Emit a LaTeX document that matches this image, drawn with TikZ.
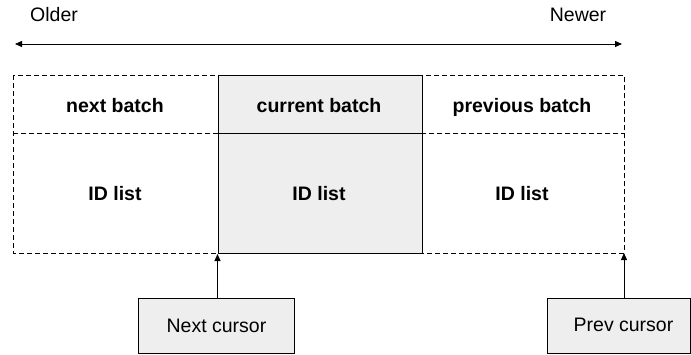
\documentclass[tikz,border=0pt]{standalone}
\usepackage{fontspec}
\setmainfont{Liberation Sans}
\usetikzlibrary{arrows.meta}
\definecolor{boxgray}{HTML}{EEEEEE}
\tikzset{
  lbl/.style={font=\fontsize{19.5}{22}\selectfont, inner sep=0pt, anchor=base},
  blbl/.style={font=\fontsize{19.5}{22}\selectfont\bfseries, inner sep=0pt, anchor=base},
  dashbox/.style={draw=black, line width=1pt, dash pattern=on 5pt off 3pt},
  solidbox/.style={draw=black, line width=1pt, fill=boxgray},
  arr/.style={draw=black, line width=1pt, -{Triangle[length=7pt,width=6pt]}},
}
\begin{document}
\begin{tikzpicture}[x=1pt,y=-1pt]
\useasboundingbox (0,0) rectangle (691,354);
% timeline
\node[lbl] (older) at (54,21) {Older};
\node[lbl] (newer) at (578,21) {Newer};
\coordinate (tl) at (15,44);
\coordinate (tr) at (622,44);
\draw[line width=1pt, {Triangle[length=7pt,width=6pt]}-{Triangle[length=7pt,width=6pt]}] (tl) -- (tr);
% dashed outer
\draw[dashbox] (13,75) rectangle (624,253);
\draw[dashbox] (13,133) -- (624,133);
% current batch
\node[solidbox, minimum width=204pt, minimum height=58pt, inner sep=0pt, anchor=north west] (curhead) at (217.5,75) {};
\node[solidbox, minimum width=204pt, minimum height=120pt, inner sep=0pt, anchor=north west] (curbody) at (217.5,133) {};
% labels
\node[blbl] (nb) at (115,112) {next batch};
\node[blbl] (cb) at (319,112) {current batch};
\node[blbl] (pb) at (522,112) {previous batch};
\node[blbl] (id1) at (115,200) {ID list};
\node[blbl] (id2) at (319,200) {ID list};
\node[blbl] (id3) at (522,200) {ID list};
% cursors
\node[solidbox, minimum width=156pt, minimum height=55pt, inner sep=0pt, anchor=north west] (nc) at (138,298) {};
\node[solidbox, minimum width=143pt, minimum height=55pt, inner sep=0pt, anchor=north west] (pc) at (546.5,298) {};
\node[lbl] (nct) at (216.5,332) {Next cursor};
\node[lbl] (pct) at (623.5,331) {Prev cursor};
\coordinate (ncT) at (curbody.south west);
\coordinate (pcT) at (624,253);
\draw[arr] (nc.north -| ncT) -- (ncT);
\draw[arr] (pc.north -| pcT) -- (pcT);
\end{tikzpicture}
\end{document}
